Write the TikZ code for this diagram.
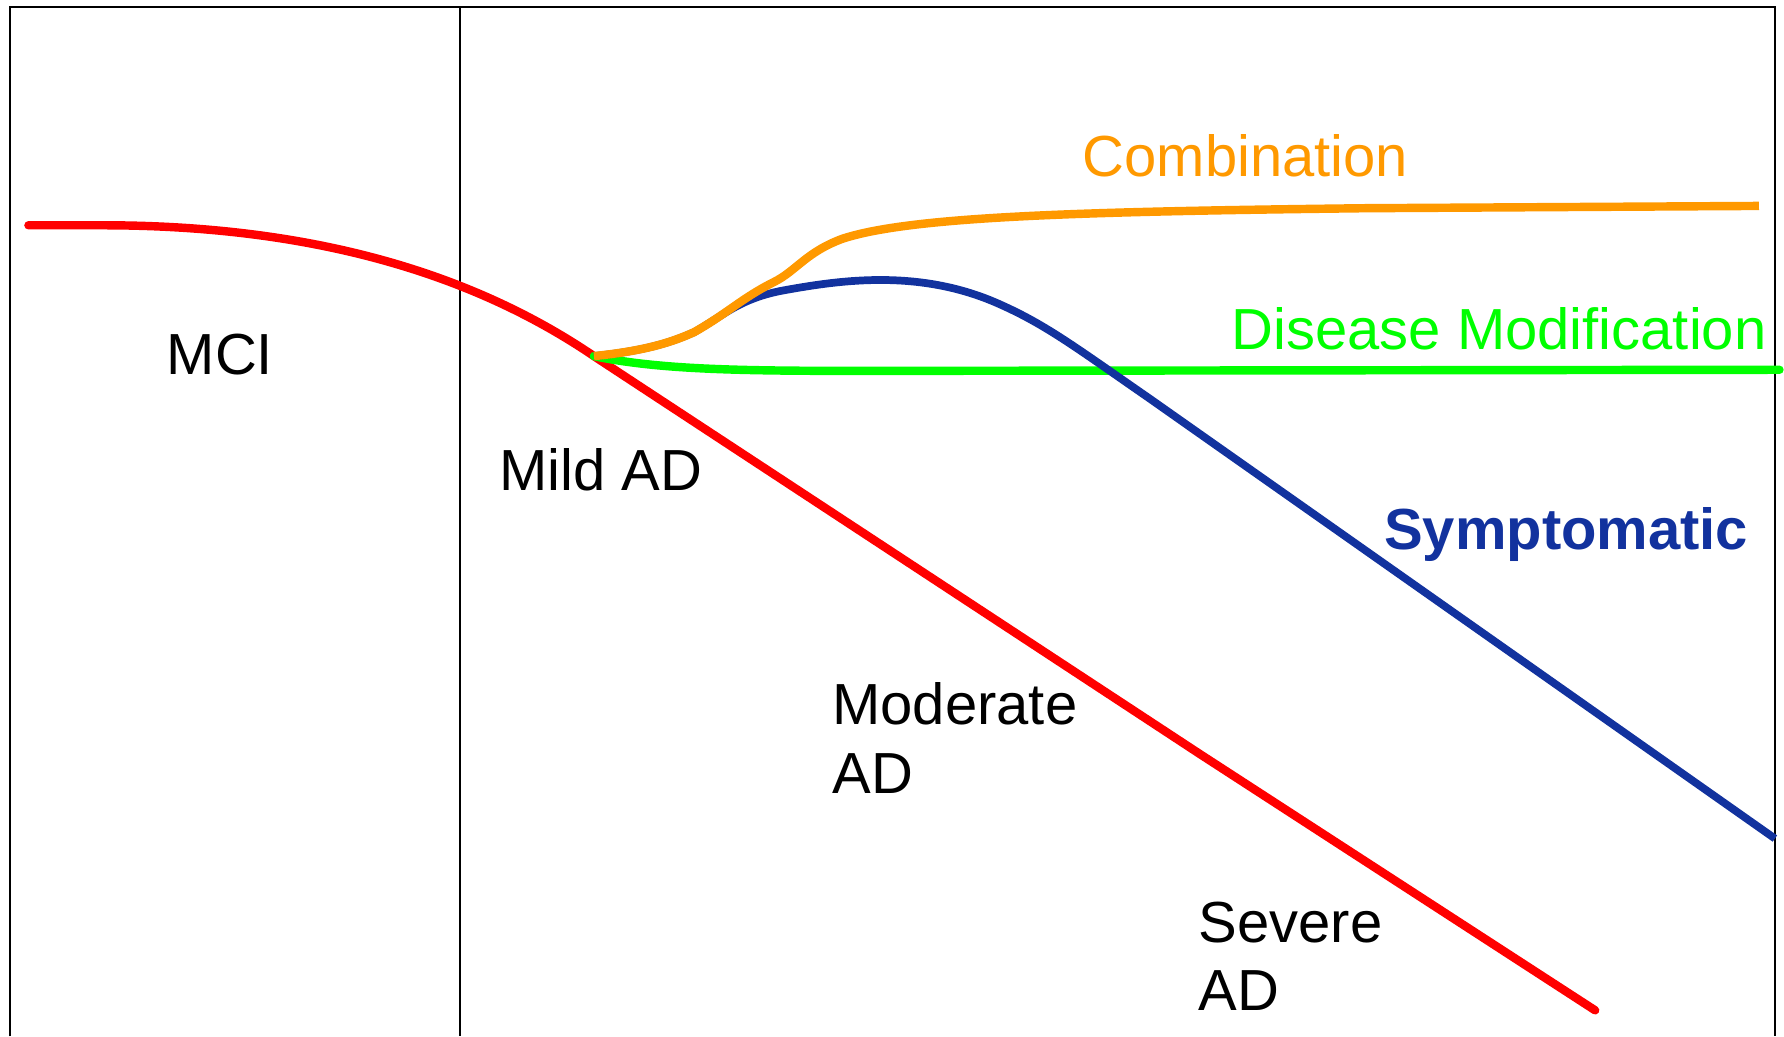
\documentclass[tikz,border=0pt]{standalone}
\usepackage{fontspec}
\setmainfont{Liberation Sans}
\usepackage{tikz}
\definecolor{adred}{RGB}{255,0,0}
\definecolor{adorange}{RGB}{255,153,0}
\definecolor{adgreen}{RGB}{0,255,0}
\definecolor{adblue}{RGB}{18,50,158}

\begin{document}
\begin{tikzpicture}[x=0.011378cm, y=-0.011378cm]
\tikzstyle{every node} = [inner sep=0pt, anchor=base west, align=left, font=\fontsize{16.5}{19.4}\selectfont]
\tikzstyle{curve} = [line width=2.4pt, line join=round]
\useasboundingbox (0,0) rectangle (1568,911);
\draw [line width=0.6pt] (9,911) -- (9,6) -- (1560,6) -- (1560,911);
\draw [line width=0.6pt] (404,6) -- (404,911);
\coordinate (split) at (522,313);
\draw [curve, adred, line cap=round] (25,198) -- (90,198) .. controls (250,198) and (400,230) .. (split) -- (1055,663) -- (1402,888);
\draw [curve, adgreen, line cap=round] (split) .. controls (580,325) and (650,326) .. (760,326) -- (1564,325);
\draw [curve, adblue, line width=2.2pt] (split) .. controls (570,308) and (592,300) .. (610,292) .. controls (635,278) and (650,262) .. (690,255) .. controls (740,246) and (810,236) .. (880,268) .. controls (920,286) and (945,305) .. (1010,350) -- (1560,737);
\draw [curve, adorange] (split) .. controls (570,308) and (592,300) .. (610,292) .. controls (640,275) and (652,262) .. (680,248) .. controls (700,238) and (708,222) .. (740,210) .. controls (800,190) and (950,186) .. (1200,183) -- (1546,181);
\node (mci) at (146,329) {MCI};
\node (mild) at (438,431) {Mild AD};
\node (moderate) at (731,697) {Moderate\\AD};
\node (severe) at (1053,888) {Severe\\AD};
\node [adorange] (combo) at (951,155) {Combination};
\node [adgreen] (dismod) at (1082,307) {Disease Modification};
\node [adblue, font=\fontsize{16.5}{19.4}\selectfont\bfseries] (sympt) at (1216,483) {Symptomatic};
\end{tikzpicture}
\end{document}
